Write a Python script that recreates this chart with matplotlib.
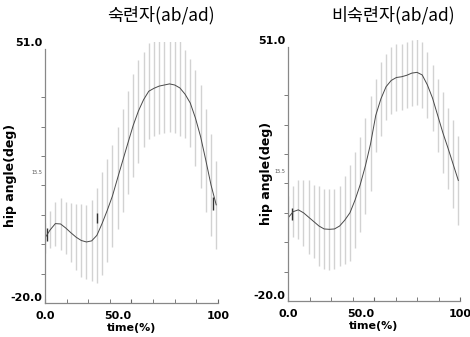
import numpy as np
import matplotlib
matplotlib.use("Agg")
from matplotlib import pyplot as plt
from matplotlib.ticker import FixedLocator

# sample times (% of cycle) where the SD bars are drawn
time_pct = [0, 3, 6, 9, 12, 15, 18, 21, 24, 27, 30, 33, 36, 39, 42, 45, 48,
            51, 54, 57, 60, 63, 66, 69, 72, 75, 78, 81, 84, 87, 90, 93, 96, 99]

# skilled group (숙련자) mean / sd of hip angle (deg)
skilled_mean = [-2.3, -0.1, 1.6, 1.5, 0.4, -0.9, -2.1, -3.0, -3.4, -3.1, -1.6,
                1.6, 5.2, 9.1, 14.0, 18.8, 23.6, 28.3, 32.2, 35.3, 37.6, 38.4,
                39.0, 39.3, 39.6, 39.3, 38.5, 36.8, 34.4, 30.3, 25.2, 18.8,
                12.1, 6.7]
skilled_sd = [4, 5, 6, 7, 7, 8, 9, 10, 10, 11, 13, 14, 14, 14, 14, 14, 14,
              14, 14, 13, 13, 13, 13, 13, 13, 13, 13, 12, 12, 13, 14, 14, 14, 12]

# unskilled group (비숙련자)
unskilled_mean = [2.6, 4.3, 4.8, 4.0, 2.8, 1.6, 0.4, -0.4, -0.5, -0.4, 0.4,
                  2.0, 4.0, 7.5, 11.7, 16.8, 22.8, 30.5, 35.0, 38.3, 40.0,
                  40.8, 41.0, 41.4, 42.0, 42.2, 41.5, 38.8, 35.2, 30.5, 25.8,
                  21.6, 17.2, 12.8]
unskilled_sd = [6, 7, 8, 9, 10, 10, 11, 11, 11, 11, 11, 12, 13, 13, 13, 13, 13,
                10, 10, 9, 9, 9, 9, 9, 9, 9, 9, 9, 9, 10, 11, 11, 12, 12]

# short dark marks seen on the traces: (time, low, high)
skilled_marks = [(1, -3.0, 0.3), (30, 1.8, 4.5), (97, 5.3, 8.8)]
unskilled_marks = [(2.5, 2.0, 5.3)]

titles = ["숙련자(ab/ad)", "비숙련자(ab/ad)"]
ytick_vals = [-20, 15.5, 51]
ytick_text = ["-20.0", "15.5", "51.0"]
yminor = [-12, -4, 4, 12, 20, 28, 36]
xtick_vals = [0, 50, 100]
xtick_text = ["0.0", "50.0", "100"]


def draw_panel(ax, mean, sd, marks):
    t = np.array(time_pct)
    m = np.array(mean)
    s = np.array(sd)
    ax.vlines(t, m - s, m + s, colors="#d2d2d2", linewidth=1.0)
    for tm, lo, hi in marks:
        ax.vlines(tm, lo, hi, colors="#333333", linewidth=1.0)
    ax.plot(t, m, color="#4a4a4a", linewidth=0.7)

    ax.set_xlim(0, 100)
    ax.set_ylim(-20, 51)
    for sp in ("top", "right"):
        ax.spines[sp].set_visible(False)
    for sp in ("left", "bottom"):
        ax.spines[sp].set_color("#888888")
        ax.spines[sp].set_linewidth(0.9)
    ax.spines["left"].set_bounds(-20, 49)

    ax.set_yticks(ytick_vals)
    ax.set_yticklabels(ytick_text, fontweight="bold", fontsize=8)
    ax.yaxis.set_minor_locator(FixedLocator(yminor))
    ax.tick_params(axis="y", which="major", length=0, pad=2)
    ax.tick_params(axis="y", which="minor", length=3, direction="out",
                   color="#666666")
    lab = ax.get_yticklabels()
    lab[0].set_va("bottom")
    lab[1].set_fontsize(3.5)
    lab[1].set_fontweight("normal")
    lab[1].set_color("#555555")

    ax.set_xticks(xtick_vals)
    ax.set_xticklabels(xtick_text, fontweight="bold", fontsize=8)
    ax.xaxis.set_minor_locator(FixedLocator([12.5, 25, 37.5, 62.5, 75, 87.5]))
    ax.tick_params(axis="x", which="both", length=3, direction="in",
                   color="#666666", pad=6)
    ax.get_xticklabels()[1].set_ha("right")

    ax.set_xlabel("time(%)", fontweight="bold", fontsize=8, labelpad=1)
    ax.set_ylabel("hip angle(deg)", fontweight="bold", fontsize=9)


fig = plt.figure(figsize=(4.7, 3.37), dpi=100)

ax1 = fig.add_axes([0.0957, 0.1009, 0.368, 0.7745])
draw_panel(ax1, skilled_mean, skilled_sd, skilled_marks)
ax1.yaxis.set_label_coords(-0.16, 0.49)

ax2 = fig.add_axes([0.6128, 0.1068, 0.366, 0.7745])
draw_panel(ax2, unskilled_mean, unskilled_sd, unskilled_marks)
ax2.yaxis.set_label_coords(-0.09, 0.49)

kr = ["Noto Sans CJK KR", "DejaVu Sans"]
fig.text(161 / 470, 1 - 15 / 337, titles[0], family=kr, fontsize=12.5,
         ha="center", va="center")
fig.text(393 / 470, 1 - 15 / 337, titles[1], family=kr, fontsize=12.5,
         ha="center", va="center")

fig.savefig("out.png", dpi=100)
plt.close(fig)
